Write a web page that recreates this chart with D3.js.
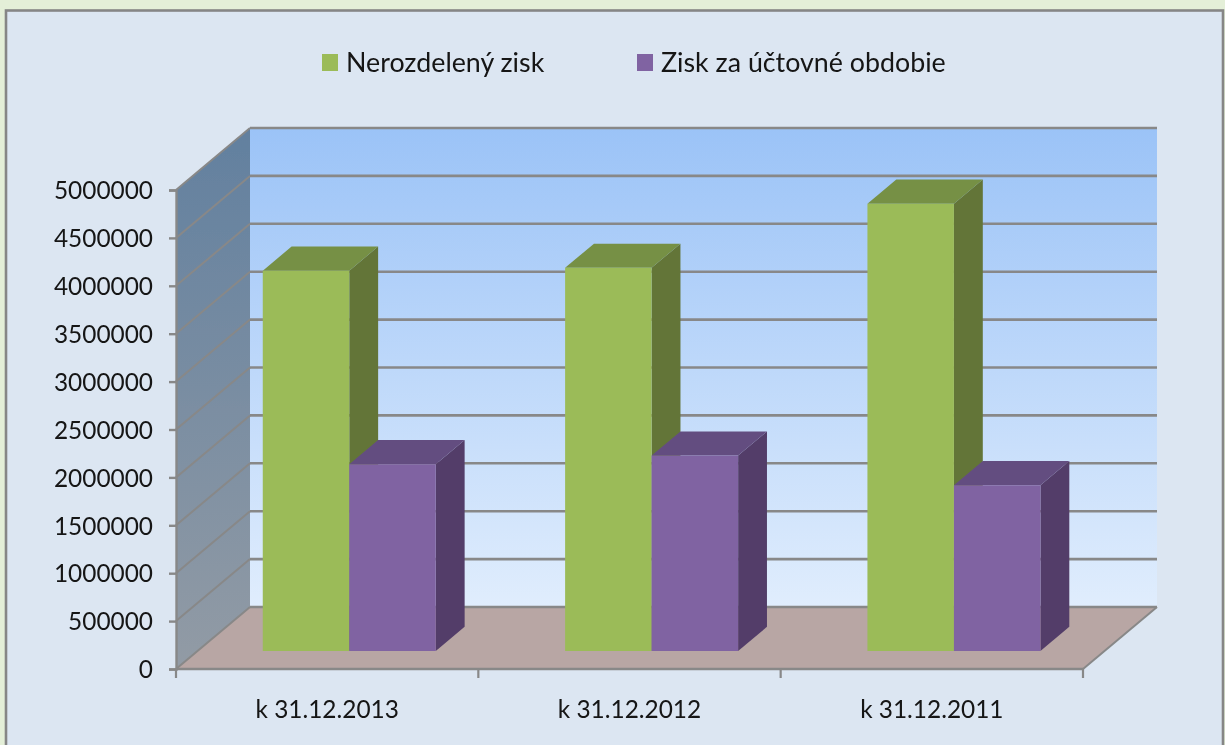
<!DOCTYPE html>
<html><head><meta charset="utf-8">
<style>html,body{margin:0;padding:0;background:#e4efd8;overflow:hidden}svg{display:block}</style>
<script src="https://cdn.jsdelivr.net/npm/d3@7"></script></head><body>
<svg id="c" width="1225" height="745"></svg>
<script>
const categories=["k 31.12.2013","k 31.12.2012","k 31.12.2011"];
const seriesNames=["Nerozdelený zisk","Zisk za účtovné obdobie"];
const nerozdeleny=[3970000,4000000,4670000];
const zisk=[1950000,2040000,1730000];
const yTicks=[0,500000,1000000,1500000,2000000,2500000,3000000,3500000,4000000,4500000,5000000];
const faceColors=["#9bbb59","#8064a2"],topColors=["#769044","#644e80"],sideColors=["#637538","#533e69"];

const W=1225,H=745,FONT="Lato, Carlito, sans-serif";
const svg=d3.select("#c");
const defs=svg.append("defs");
function grad(id,stops){const g=defs.append("linearGradient").attr("id",id).attr("x1",0).attr("y1",0).attr("x2",0).attr("y2",1);
 stops.forEach(([o,c])=>g.append("stop").attr("offset",o).attr("stop-color",c));}
grad("wall",[[0,"#9bc3f7"],[1,"#e0edfd"]]);
grad("side",[[0,"#62809f"],[1,"#929ba5"]]);
defs.append("filter").attr("id","soft").attr("x","-2%").attr("y","-2%").attr("width","104%").attr("height","104%")
 .append("feGaussianBlur").attr("stdDeviation",0.6);

const root=svg.append("g").attr("filter","url(#soft)");
root.append("rect").attr("x",6).attr("y",10.5).attr("width",1217).attr("height",H+20)
 .attr("fill","#dce6f2").attr("stroke","#868686").attr("stroke-width",2.6);

const x=d3.scaleBand().domain(categories).range([176,1083]);
const y=d3.scaleLinear().domain([0,5000000]).range([669,190]);
const dxMax=74,dyMax=-62;
const depth=d=>[d*dxMax,d*dyMax];
const dFront=0.29,dBack=0.68;
const P=(px,v,d)=>{const [a,b]=depth(d);return [px+a,y(v)+b];};
const poly=pts=>pts.map(p=>p.join(",")).join(" ");
const xl=x.range()[0],xr=x.range()[1],vTop=yTicks[yTicks.length-1];
const GRID="#888888";

// walls and floor
root.append("polygon").attr("points",poly([P(xl,0,1),P(xr,0,1),P(xr,vTop,1),P(xl,vTop,1)])).attr("fill","url(#wall)");
root.append("polygon").attr("points",poly([P(xl,0,0),P(xl,0,1),P(xl,vTop,1),P(xl,vTop,0)])).attr("fill","url(#side)");
root.append("polygon").attr("points",poly([P(xl,0,0),P(xr,0,0),P(xr,0,1),P(xl,0,1)])).attr("fill","#b8a6a4");

// gridlines
yTicks.forEach(t=>{
 root.append("line").attr("x1",P(xl,t,1)[0]).attr("y1",P(xl,t,1)[1]).attr("x2",P(xr,t,1)[0]).attr("y2",P(xr,t,1)[1])
  .attr("stroke",GRID).attr("stroke-width",2.6);
 root.append("line").attr("x1",P(xl,t,0)[0]).attr("y1",P(xl,t,0)[1]).attr("x2",P(xl,t,1)[0]).attr("y2",P(xl,t,1)[1])
  .attr("stroke",GRID).attr("stroke-width",2);
});
root.append("line").attr("x1",P(xr,0,0)[0]).attr("y1",P(xr,0,0)[1]).attr("x2",P(xr,0,1)[0]).attr("y2",P(xr,0,1)[1]).attr("stroke",GRID).attr("stroke-width",2);
root.append("line").attr("x1",P(xl,0,0)[0]).attr("y1",P(xl,0,0)[1]).attr("x2",P(xr,0,0)[0]).attr("y2",P(xr,0,0)[1]).attr("stroke",GRID).attr("stroke-width",2.6);

// axes
const yAxis=root.append("g").attr("transform",`translate(${xl},0)`)
 .call(d3.axisLeft(y).tickValues(yTicks).tickFormat(d3.format("d")).tickSize(7).tickPadding(16));
const xAxis=root.append("g").attr("transform",`translate(0,${y(0)})`)
 .call(d3.axisBottom(x).tickSize(0).tickPadding(32));
xAxis.selectAll(".tick line").remove();
x.domain().concat([null]).forEach(c=>{
 const px=c===null?xr:x(c);
 xAxis.append("line").attr("x1",px).attr("x2",px).attr("y1",0).attr("y2",9).attr("stroke",GRID).attr("stroke-width",2.2);
});
[yAxis,xAxis].forEach(a=>{a.select(".domain").attr("stroke",GRID).attr("stroke-width",2.4);
 a.selectAll(".tick line").attr("stroke",GRID).attr("stroke-width",2.4);
 a.selectAll("text").attr("font-family",FONT).attr("font-size",24.4).attr("fill","#141414");});
yAxis.selectAll("text").attr("dy","0.36em");
xAxis.select(".domain").remove();

// bars
const inner=d3.scaleBand().domain([0,1]).range([0,x.bandwidth()]).paddingOuter(0.7475).paddingInner(0).align(0.505);
const series=[nerozdeleny,zisk];
categories.forEach((c,ci)=>{
 [0,1].forEach(si=>{
  const v=series[si][ci],x0=x(c)+inner(si),x1=x0+inner.bandwidth();
  const g=root.append("g");
  g.append("polygon").attr("points",poly([P(x1,0,dFront),P(x1,0,dBack),P(x1,v,dBack),P(x1,v,dFront)])).attr("fill",sideColors[si]);
  g.append("polygon").attr("points",poly([P(x0,v,dFront),P(x1,v,dFront),P(x1,v,dBack),P(x0,v,dBack)])).attr("fill",topColors[si]);
  g.append("polygon").attr("points",poly([P(x0,0,dFront),P(x1,0,dFront),P(x1,v,dFront),P(x0,v,dFront)])).attr("fill",faceColors[si]);
 });
});

// legend
const legendX=d3.scalePoint().domain(seriesNames).range([322,637]);
seriesNames.forEach((n,i)=>{
 const g=root.append("g").attr("transform",`translate(${legendX(n)},0)`);
 g.append("rect").attr("x",0).attr("y",54).attr("width",16).attr("height",17).attr("fill",faceColors[i]);
 g.append("text").attr("x",24).attr("y",72).attr("font-family",FONT).attr("font-size",26.8).attr("fill","#141414").text(n);
});
</script></body></html>
